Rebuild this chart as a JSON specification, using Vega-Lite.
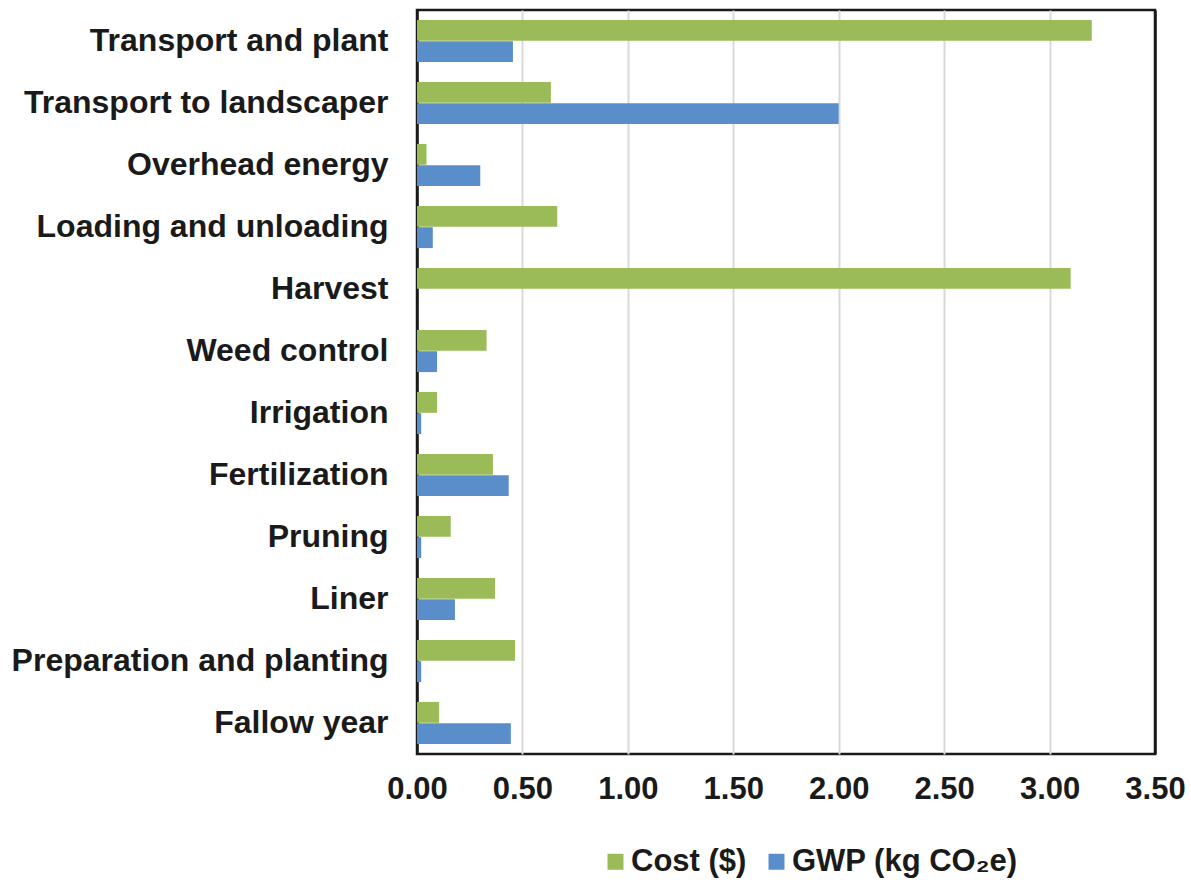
{
  "$schema": "https://vega.github.io/schema/vega-lite/v6.json",
  "autosize": {"type": "none"},
  "width": 738,
  "height": 744,
  "padding": {"left": 417, "top": 10, "right": 36, "bottom": 126},
  "background": "white",
  "config": {
    "font": "Liberation Sans",
    "view": {"stroke": "#1a1a1a", "strokeWidth": 2.5},
    "axis": {"labelFont": "Liberation Sans", "labelFontWeight": "bold", "labelFontSize": 31, "labelColor": "#1a1a1a"},
    "legend": {"labelFont": "Liberation Sans", "labelFontWeight": "bold", "labelFontSize": 31, "labelColor": "#1a1a1a"}
  },
  "data": {
    "values": [
      {"category": "Transport and plant", "series": "Cost ($)", "value": 3.20},
      {"category": "Transport and plant", "series": "GWP (kg CO₂e)", "value": 0.455},
      {"category": "Transport to landscaper", "series": "Cost ($)", "value": 0.635},
      {"category": "Transport to landscaper", "series": "GWP (kg CO₂e)", "value": 2.00},
      {"category": "Overhead energy", "series": "Cost ($)", "value": 0.045},
      {"category": "Overhead energy", "series": "GWP (kg CO₂e)", "value": 0.30},
      {"category": "Loading and unloading", "series": "Cost ($)", "value": 0.665},
      {"category": "Loading and unloading", "series": "GWP (kg CO₂e)", "value": 0.075},
      {"category": "Harvest", "series": "Cost ($)", "value": 3.10},
      {"category": "Harvest", "series": "GWP (kg CO₂e)", "value": 0.0},
      {"category": "Weed control", "series": "Cost ($)", "value": 0.33},
      {"category": "Weed control", "series": "GWP (kg CO₂e)", "value": 0.095},
      {"category": "Irrigation", "series": "Cost ($)", "value": 0.095},
      {"category": "Irrigation", "series": "GWP (kg CO₂e)", "value": 0.02},
      {"category": "Fertilization", "series": "Cost ($)", "value": 0.36},
      {"category": "Fertilization", "series": "GWP (kg CO₂e)", "value": 0.435},
      {"category": "Pruning", "series": "Cost ($)", "value": 0.16},
      {"category": "Pruning", "series": "GWP (kg CO₂e)", "value": 0.02},
      {"category": "Liner", "series": "Cost ($)", "value": 0.37},
      {"category": "Liner", "series": "GWP (kg CO₂e)", "value": 0.18},
      {"category": "Preparation and planting", "series": "Cost ($)", "value": 0.465},
      {"category": "Preparation and planting", "series": "GWP (kg CO₂e)", "value": 0.02},
      {"category": "Fallow year", "series": "Cost ($)", "value": 0.105},
      {"category": "Fallow year", "series": "GWP (kg CO₂e)", "value": 0.445}
    ]
  },
  "mark": {"type": "bar"},
  "encoding": {
    "y": {
      "field": "category",
      "type": "nominal",
      "sort": ["Transport and plant", "Transport to landscaper", "Overhead energy", "Loading and unloading", "Harvest", "Weed control", "Irrigation", "Fertilization", "Pruning", "Liner", "Preparation and planting", "Fallow year"],
      "scale": {"paddingInner": 0.32, "paddingOuter": 0.16},
      "axis": {"title": null, "ticks": false, "domain": false, "labelPadding": 29, "labelLimit": 500, "labelFontSize": 32}
    },
    "yOffset": {
      "field": "series",
      "type": "nominal",
      "sort": ["Cost ($)", "GWP (kg CO₂e)"],
      "scale": {"paddingInner": 0.02}
    },
    "x": {
      "field": "value",
      "type": "quantitative",
      "scale": {"domain": [0, 3.5], "nice": false},
      "axis": {
        "title": null,
        "values": [0, 0.5, 1, 1.5, 2, 2.5, 3, 3.5],
        "format": ".2f",
        "ticks": false,
        "domain": false,
        "grid": true,
        "gridColor": {"condition": {"test": "datum.value === 0 || datum.value === 3.5", "value": "#1a1a1a"}, "value": "#d9d9d9"},
        "gridWidth": {"condition": {"test": "datum.value === 0 || datum.value === 3.5", "value": 2.5}, "value": 2},
        "labelPadding": 20,
        "labelFlush": false
      }
    },
    "color": {
      "field": "series",
      "type": "nominal",
      "sort": ["Cost ($)", "GWP (kg CO₂e)"],
      "scale": {"domain": ["Cost ($)", "GWP (kg CO₂e)"], "range": ["#9bbb59", "#5a8ecb"]},
      "legend": {"title": null, "orient": "none", "legendX": 183, "legendY": 836, "padding": 0, "direction": "horizontal", "symbolType": "square", "symbolSize": 256, "symbolStrokeWidth": 0, "labelOffset": 0, "columnPadding": 14, "labelLimit": 500}
    }
  }
}
